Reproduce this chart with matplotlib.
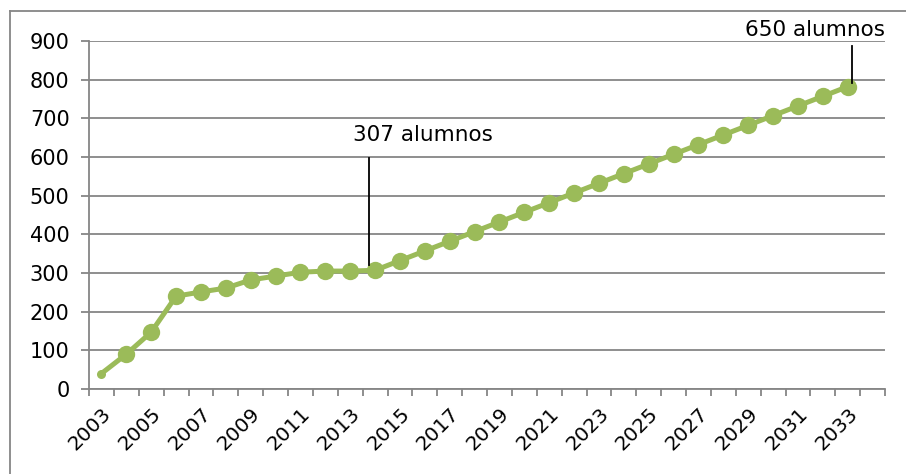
import matplotlib
matplotlib.use("Agg")
import matplotlib.pyplot as plt
from matplotlib.lines import Line2D
from matplotlib.ticker import FixedLocator, NullFormatter

years = list(range(2003, 2034))
alumnos = [40, 90, 147, 240, 251, 261, 282, 292, 302, 305, 305, 307,
           332, 357, 382, 407, 432, 457, 482, 507, 532, 557, 582, 607,
           632, 657, 682, 707, 732, 757, 782]
n_categories = 32  # the axis keeps one empty slot after 2033
tick_labels = [str(y) if (y - 2003) % 2 == 0 else "" for y in years]

green = "#9BBB59"
grey = "#868686"

plt.rcParams["font.family"] = ["DejaVu Sans"]

fig = plt.figure(figsize=(9.06, 4.74), dpi=100)
ax = fig.add_axes([89 / 906, 1 - 389 / 474, (885 - 89) / 906, (389 - 41) / 474])

x = list(range(len(years)))
ax.plot(x[1:], alumnos[1:], color=green, lw=3.6, marker="o", ms=12.5,
        markeredgewidth=0, zorder=3, clip_on=False)
ax.plot(x[:2], alumnos[:2], color=green, lw=3.6, solid_capstyle="round", zorder=3)
ax.plot(x[0], alumnos[0], "o", color=green, ms=6.5, markeredgewidth=0, zorder=3)

ax.set_xlim(-0.5, n_categories - 0.5)
ax.set_ylim(0, 900)
ax.set_yticks(range(0, 901, 100))
ax.yaxis.grid(True, color=grey, lw=1.3)
ax.set_axisbelow(True)

# category boundaries carry the tick marks, centres carry the labels
ax.xaxis.set_major_locator(FixedLocator([i - 0.5 for i in range(n_categories + 1)]))
ax.xaxis.set_major_formatter(NullFormatter())
ax.xaxis.set_minor_locator(FixedLocator(x))
ax.set_xticklabels(tick_labels, minor=True, rotation=45, ha="right",
                   rotation_mode="anchor", fontsize=14.5)
ax.tick_params(axis="x", which="major", length=5, width=1.3, color=grey)
ax.tick_params(axis="x", which="minor", length=0, pad=11)
ax.tick_params(axis="y", length=6, width=1.3, color=grey, labelsize=15, pad=8)

for side in ["top", "right"]:
    ax.spines[side].set_visible(False)
for side in ["left", "bottom"]:
    ax.spines[side].set_color(grey)
    ax.spines[side].set_linewidth(1.3)

# annotations
ax.plot([10.75, 10.75], [321, 597], color="black", lw=1.3, zorder=4)
ax.text(12.93, 657, "307 alumnos", ha="center", va="center", fontsize=15.5)
ax.plot([30.17, 30.17], [791, 887], color="black", lw=1.3, zorder=4, clip_on=False)
ax.text(28.7, 928, "650 alumnos", ha="center", va="center", fontsize=15.5, clip_on=False)

# outer chart frame (cut by the image edge on the right and bottom)
fig.add_artist(Line2D([10 / 906, 1], [1 - 11 / 474] * 2, color=grey, lw=1.3))
fig.add_artist(Line2D([10 / 906] * 2, [0, 1 - 11 / 474], color=grey, lw=1.3))

fig.savefig("out.png", dpi=100)
